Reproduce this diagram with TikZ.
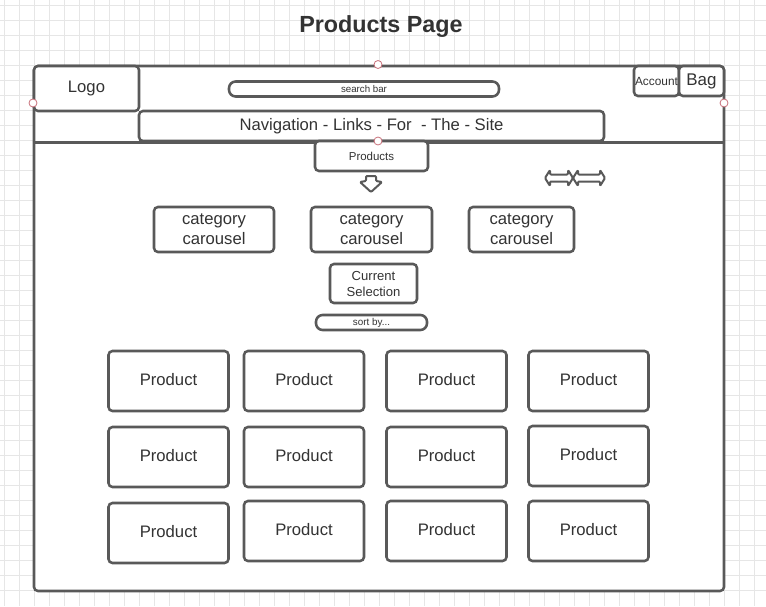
\documentclass[tikz,border=0pt]{standalone}
\usepackage{fontspec}
\setmainfont{Liberation Sans}
\usepackage{xcolor}
\usepackage{tikz}
\usetikzlibrary{positioning,calc}
\definecolor{lineColor}{HTML}{595959}
\definecolor{textColor}{HTML}{333333}
\definecolor{gridColor}{HTML}{E6E6E6}
\definecolor{handleColor}{HTML}{C8707A}
\tikzset{
    wirebox/.style={
        draw=lineColor,
        line width=1.9pt,
        rounded corners=3pt,
        fill=white,
        text=textColor,
        inner sep=0pt,
        align=center,
        font=\fontsize{12.5}{15}\selectfont
    },
    prodbox/.style={wirebox, minimum width=90pt, minimum height=45pt, text depth=3pt},
    catbox/.style={wirebox, minimum height=33.75pt},
    barbox/.style={wirebox, rounded corners=5pt, minimum height=11.25pt, font=\fontsize{7.3}{8}\selectfont},
    handle/.style={circle, draw=handleColor, fill=white, line width=0.6pt, minimum size=6pt, inner sep=0pt},
    gridline/.style={gridColor, line width=0.5pt},
    blockarrow/.style={draw=lineColor, line width=1.5pt, fill=white, line join=round, rounded corners=0.8pt}
}

\begin{document}
\begin{tikzpicture}[x=0.75pt, y=-0.75pt]
        \useasboundingbox (0,0) rectangle (766,606);
        % background grid
        \foreach \gx in {4,19,...,764} \draw[gridline] (\gx,0) -- (\gx,606);
        \foreach \gy in {5.5,20.5,...,605} \draw[gridline] (0,\gy) -- (766,\gy);

        \node[font=\fontsize{17.5}{21}\bfseries\selectfont, text=textColor] (title) at (381,26.5) {Products Page};
        \node[wirebox, minimum width=517.5pt, minimum height=393.75pt] (page) at (379,328.5) {};

        % header
        \node[wirebox, minimum width=78.75pt, minimum height=33.75pt] (logo) at (86.5,88.5) {Logo};
        \node[barbox, minimum width=202.5pt] (search) at (364,89) {search bar};
        \node[wirebox, minimum width=348.75pt, minimum height=22.5pt] (nav) at (371.5,126) {Navigation - Links - For\ \ - The - Site};
        \node[wirebox, minimum width=33.75pt, minimum height=22.5pt, font=\fontsize{8.9}{10}\selectfont] (account) at (656.5,81) {Account};
        \node[wirebox, minimum width=33.75pt, minimum height=22.5pt, font=\fontsize{12.7}{15}\selectfont] (bag) at (701.5,81) {Bag};
        \draw[lineColor, line width=1.9pt] (page.west |- nav.south) -- (page.east |- nav.south);

        % categories
        \node[wirebox, minimum width=84.75pt, minimum height=22.5pt, font=\fontsize{8.6}{10}\selectfont] (products) at (371.5,156) {Products};
        \draw[blockarrow] (366,176) -- (376,176) -- (376,181) -- (382,182) -- (371,192) -- (360,182) -- (366,181) -- cycle;
        \draw[blockarrow] (545,178) -- (550,170) -- (550,174.5) -- (568,174.5) -- (568,170) -- (573,178) -- (568,186) -- (568,181.5) -- (550,181.5) -- (550,186) -- cycle;
        \draw[blockarrow] (573,178) -- (578,170) -- (578,174.5) -- (600,174.5) -- (600,170) -- (605,178) -- (600,186) -- (600,181.5) -- (578,181.5) -- (578,186) -- cycle;
        \node[catbox, minimum width=90pt] (cat1) at (214,229.5) {category\\carousel};
        \node[catbox, minimum width=90.75pt] (cat2) at (371.5,229.5) {category\\carousel};
        \node[catbox, minimum width=78.75pt] (cat3) at (521.5,229.5) {category\\carousel};
        \node[wirebox, minimum width=65.25pt, minimum height=29.25pt, font=\fontsize{9.8}{12}\selectfont] (current) at (373.5,283.5) {Current\\Selection};
        \node[barbox, minimum width=83.25pt, font=\fontsize{7.4}{8}\selectfont] (sort) at (371.5,322.5) {sort by...};

        % product grid
        \node[prodbox] (p11) at (168.5,381) {Product};
        \node[prodbox] (p12) at (304,381) {Product};
        \node[prodbox] (p13) at (446.5,381) {Product};
        \node[prodbox] (p14) at (588.5,381) {Product};
        \node[prodbox] (p21) at (168.5,457) {Product};
        \node[prodbox] (p22) at (304,457) {Product};
        \node[prodbox] (p23) at (446.5,457) {Product};
        \node[prodbox] (p24) at (588.5,456) {Product};
        \node[prodbox] (p31) at (168.5,533) {Product};
        \node[prodbox] (p32) at (304,531) {Product};
        \node[prodbox] (p33) at (446.5,531) {Product};
        \node[prodbox] (p34) at (588.5,531) {Product};

        % selection handles
        \node[handle] (htop) at (378,64.5) {};
        \node[handle] (hleft) at (33,103) {};
        \node[handle] (hright) at (724,103) {};
        \node[handle] (hbottom) at (378,141) {};
    \end{tikzpicture}
\end{document}
